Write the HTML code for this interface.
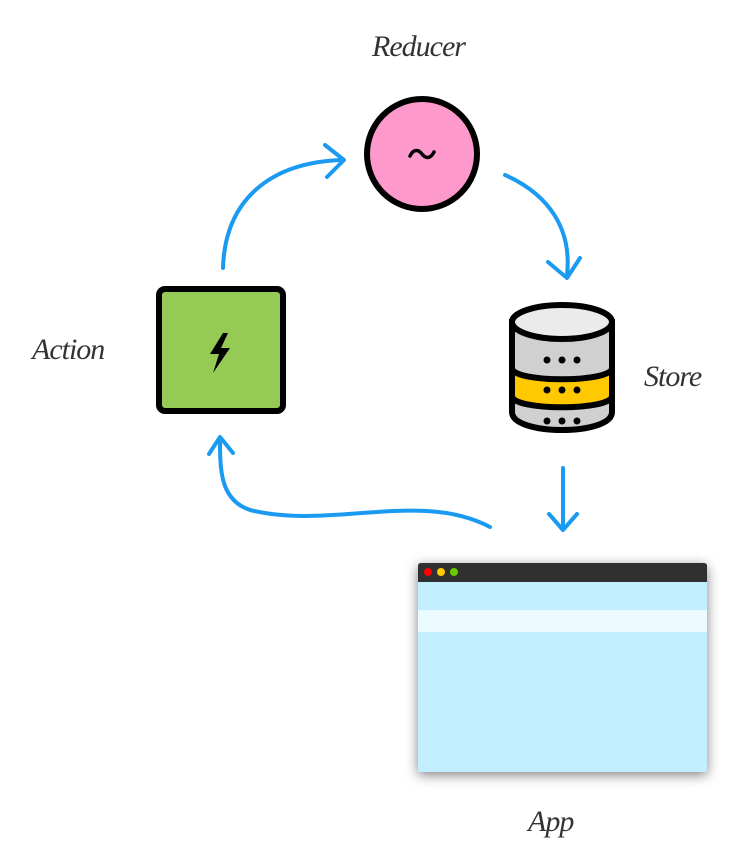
<!DOCTYPE html>
<html><head><style>
body{margin:0;background:#fff;width:731px;height:850px;overflow:hidden;position:relative;font-family:"Liberation Sans",sans-serif}
.lbl{position:absolute;font-family:"Liberation Serif",serif;font-style:italic;font-size:30px;color:#333;letter-spacing:-1px}
</style></head><body>
<svg width="731" height="850" style="position:absolute;left:0;top:0">
<defs><filter id="sh" x="-10%" y="-10%" width="120%" height="125%"><feDropShadow dx="0" dy="3" stdDeviation="6" flood-color="#000" flood-opacity="0.5"/></filter></defs>
<g fill="none" stroke="#1a9af0" stroke-width="4" stroke-linecap="round" stroke-linejoin="round">
<path d="M223 268 C225 200 270 162 343 160"/>
<path d="M325 145 L344 160 L327 177"/>
<path d="M505 175 C550 195 572 230 567 275"/>
<path d="M548 262 L567 278 L580 258"/>
<path d="M563 468 L563 528"/>
<path d="M549 514 L563 530 L577 514"/>
<path d="M490 527 C420 490 330 530 250 510 C220 500 220 470 220 438"/>
<path d="M209 454 L220 437 L233 453"/>
</g>
<circle cx="422" cy="154" r="55" fill="#fe99cb" stroke="#000" stroke-width="6"/>
<path d="M410 156 C414 148 419 150 422 154 C425 158 430 160 434 152" fill="none" stroke="#000" stroke-width="3.5" stroke-linecap="round"/>
<rect x="159" y="289" width="124" height="122" rx="6" fill="#95cb55" stroke="#000" stroke-width="6"/>
<path d="M223 333 L210 354 L219 354 L213 373 L230 348 L221 348 L228 333Z" fill="#000"/>
<!-- store -->
<g stroke="#000" stroke-width="6">
<path d="M512 322 L512 412 C512 436 612 436 612 412 L612 322Z" fill="#d0d0d0"/>
<path d="M512 368 C512 383 612 383 612 368 L612 396 C612 411 512 411 512 396Z" fill="#ffc800"/>
<ellipse cx="562" cy="322" rx="50" ry="17" fill="#ebebeb"/>
</g>
<g fill="#000">
<circle cx="547" cy="360" r="3.5"/><circle cx="562" cy="360" r="3.5"/><circle cx="577" cy="360" r="3.5"/>
<circle cx="547" cy="390" r="3.5"/><circle cx="562" cy="390" r="3.5"/><circle cx="577" cy="390" r="3.5"/>
<circle cx="547" cy="421" r="3.5"/><circle cx="562" cy="421" r="3.5"/><circle cx="577" cy="421" r="3.5"/>
</g>
<!-- app -->
<g filter="url(#sh)"><rect x="418" y="563" width="289" height="209" rx="3" fill="#c2efff"/></g>
<path d="M421 563 H704 Q707 563 707 566 V582 H418 V566 Q418 563 421 563Z" fill="#303030"/>
<rect x="418" y="610" width="289" height="22" fill="#eafaff"/>
<circle cx="428" cy="572" r="4" fill="#f00"/><circle cx="441" cy="572" r="4" fill="#fc0"/><circle cx="454" cy="572" r="4" fill="#6c0"/>
</svg>
<div class="lbl" style="left:372px;top:30px">Reducer</div>
<div class="lbl" style="left:32px;top:333px">Action</div>
<div class="lbl" style="left:644px;top:360px">Store</div>
<div class="lbl" style="left:528px;top:805px">App</div>
</body></html>
